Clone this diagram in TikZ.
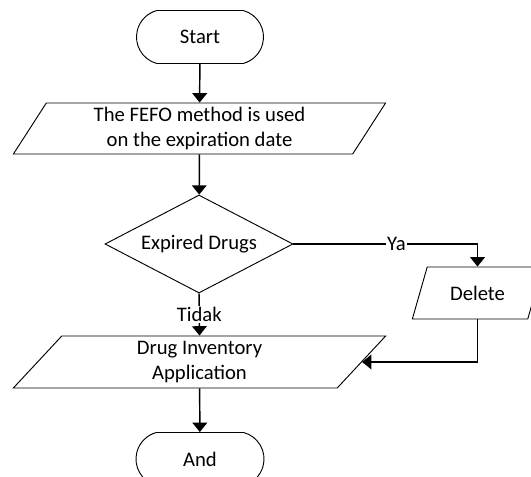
\documentclass[tikz,border=0pt]{standalone}
\usepackage{fontspec}
\setmainfont{Carlito}
\usetikzlibrary{shapes.geometric,shapes.misc,arrows.meta}

\tikzset{
  terminal/.style={draw,line width=0.7pt,rounded rectangle,rounded rectangle arc length=150,minimum width=96.75pt,minimum height=39.75pt,inner sep=0.75pt},
  iobox/.style={draw,line width=0.7pt,trapezium,trapezium left angle=63,trapezium right angle=117,trapezium stretches=true,minimum height=38.25pt,inner sep=0.75pt,align=center},
  decision/.style={draw,line width=0.7pt,diamond,aspect=2,minimum width=141pt,minimum height=73.5pt,inner sep=0pt},
  flow/.style={line width=1.1pt,-{Triangle[width=11pt,length=7pt]}},
  lbl/.style={fill=white,inner sep=0.75pt}
}

\begin{document}
\begin{tikzpicture}[x=0.75pt,y=0.75pt,yscale=-1,xscale=1,font=\fontsize{15.5}{19}\selectfont]
\useasboundingbox (0,0) rectangle (531,477);
\clip (0,0) rectangle (531,477);

%Shape: Terminator [id:start]
\node [terminal] (start) at (200,37) {Start};
%Shape: Data [id:fefo]
\node [iobox,minimum width=279.75pt] (fefo) at (199.5,128.5) {The FEFO method is used\\on the expiration date};
%Shape: Decision [id:expired]
\node [decision] (expired) at (199,244) {Expired Drugs};
%Shape: Data [id:delete]
\node [iobox,minimum width=98.25pt,minimum height=39pt] (delete) at (477.5,293) {Delete};
%Shape: Data [id:inventory]
\node [iobox,minimum width=279.75pt,minimum height=39pt] (inventory) at (199.5,362) {Drug Inventory\\Application};
%Shape: Terminator [id:finish]
\node [terminal,minimum width=97.5pt] (finish) at (200,459) {And};

%Connectors
\draw [flow] (start) -- (fefo);
\draw [flow] (fefo) -- (expired);
\draw [flow] (expired.east) -| node [lbl,pos=0.28] {Ya} (delete.north);
\draw [flow] (expired.south) -- node [lbl] {Tidak} (inventory.north);
\draw [flow] (delete.south) |- (inventory.east);
\draw [flow] (inventory) -- (finish);

\end{tikzpicture}
\end{document}
